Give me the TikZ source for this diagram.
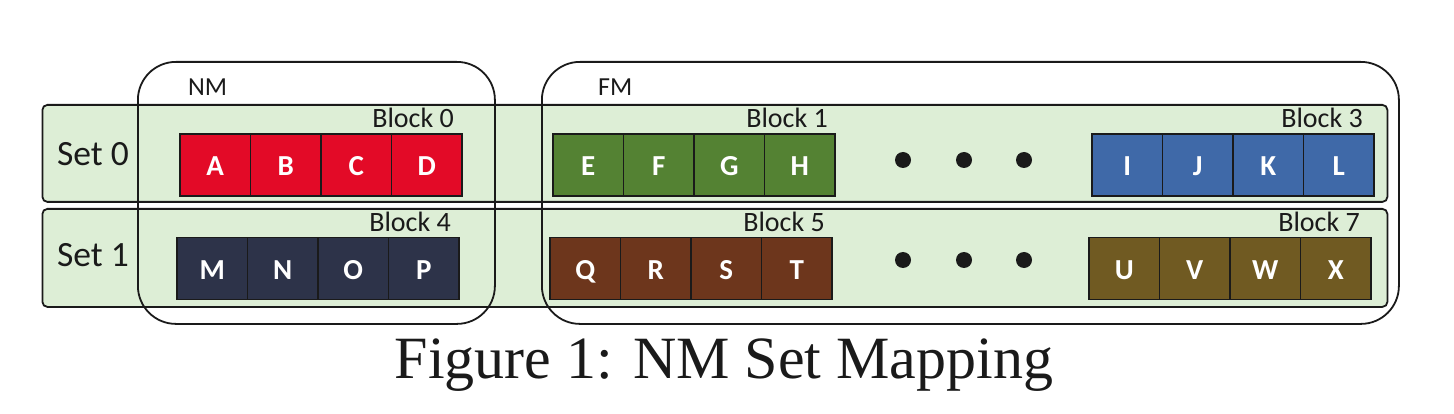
\documentclass[tikz,border=0pt]{standalone}
\usepackage{fontspec}
\setmainfont{Carlito}
\newfontfamily\capfont{Liberation Serif}
\definecolor{rowbg}{HTML}{DDEED6}
\definecolor{cred}{HTML}{E30A27}
\definecolor{cgreen}{HTML}{548233}
\definecolor{cblue}{HTML}{3F69A8}
\definecolor{cnavy}{HTML}{2D3349}
\definecolor{cbrown}{HTML}{6D361C}
\definecolor{colive}{HTML}{705A22}
\definecolor{ink}{HTML}{1A1A1A}
\tikzset{
  rowbox/.style={draw=ink, line width=1.8pt, fill=rowbg, rounded corners=5pt},
  membox/.style={draw=ink, line width=1.8pt, rounded corners=38pt},
  cell/.style={draw=ink, line width=1.6pt, minimum width=70.5pt, minimum height=62pt, inner sep=0pt,
    text=white, font=\fontsize{29}{34}\selectfont\bfseries, text height=22pt, text depth=0pt},
  blocklbl/.style={anchor=base east, inner sep=0pt, font=\fontsize{28}{32}\selectfont, text=ink},
  setlbl/.style={anchor=base west, inner sep=0pt, font=\fontsize{35.5}{40}\selectfont, text=ink},
  memlbl/.style={anchor=base west, inner sep=0pt, font=\fontsize{26}{30}\selectfont, text=ink},
  dotmark/.style={fill=ink, circle, minimum size=16pt, inner sep=0pt}
}
\begin{document}
\begin{tikzpicture}[x=1pt,y=-1pt]
\useasboundingbox (0,0) rectangle (1454,414);
% rows
\node[rowbox, anchor=north west, minimum width=1345pt, minimum height=97pt, inner sep=0pt] (row0) at (41.5,104) {};
\node[rowbox, anchor=north west, minimum width=1345pt, minimum height=98pt, inner sep=0pt] (row1) at (41.5,208) {};
% set labels
\node[setlbl] (set0) at (57,166) {Set 0};
\node[setlbl] (set1) at (57,266) {Set 1};
% blocks
\foreach \L [count=\i from 0] in {A,B,C,D} \node[cell, fill=cred] (c\L) at (180+70.5*\i+35.25,165) {\L};
\foreach \L [count=\i from 0] in {E,F,G,H} \node[cell, fill=cgreen] (c\L) at (553+70.5*\i+35.25,165) {\L};
\foreach \L [count=\i from 0] in {I,J,K,L} \node[cell, fill=cblue] (c\L) at (1092+70.5*\i+35.25,165) {\L};
\foreach \L [count=\i from 0] in {M,N,O,P} \node[cell, fill=cnavy] (c\L) at (177+70.5*\i+35.25,268.5) {\L};
\foreach \L [count=\i from 0] in {Q,R,S,T} \node[cell, fill=cbrown] (c\L) at (550+70.5*\i+35.25,268.5) {\L};
\foreach \L [count=\i from 0] in {U,V,W,X} \node[cell, fill=colive] (c\L) at (1089+70.5*\i+35.25,268.5) {\L};
% block labels
\node[blocklbl] (b0) at (454,128) {Block 0};
\node[blocklbl] (b1) at (828,128) {Block 1};
\node[blocklbl] (b3) at (1363,128) {Block 3};
\node[blocklbl] (b4) at (451,232) {Block 4};
\node[blocklbl] (b5) at (825,232) {Block 5};
\node[blocklbl] (b7) at (1360,232) {Block 7};
% dots
\foreach \x [count=\k] in {903,964,1024} {
  \node[dotmark] (d0\k) at (\x,160) {};
  \node[dotmark] (d1\k) at (\x,260) {};
}
% NM / FM boxes
\node[membox, anchor=north west, minimum width=357pt, minimum height=262pt, inner sep=0pt] (nm) at (137,61) {};
\node[membox, anchor=north west, minimum width=857pt, minimum height=262pt, inner sep=0pt] (fm) at (541,61) {};
\node[memlbl] (nmlbl) at (188,96) {NM};
\node[memlbl] (fmlbl) at (598,96) {FM};
% caption
\node[anchor=base, inner sep=0pt, font=\capfont\fontsize{60}{70}\selectfont, text=ink] (cap) at (724,378) {Figure 1: NM Set Mapping};
\end{tikzpicture}
\end{document}
